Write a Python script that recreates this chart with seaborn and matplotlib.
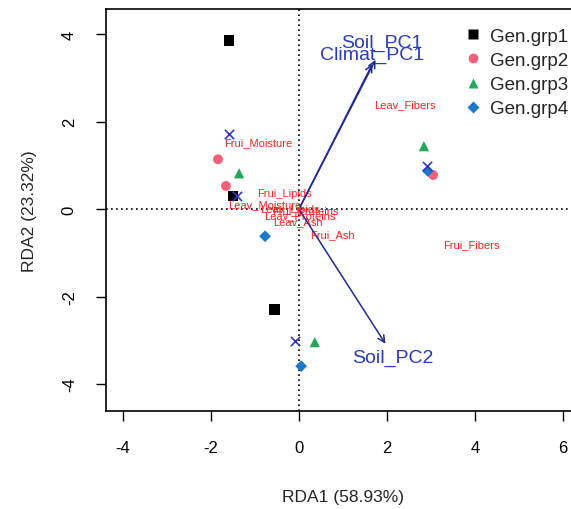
import pandas as pd
import matplotlib.pyplot as plt
import seaborn as sns

# --- dados ---
grupos = ['Gen.grp1', 'Gen.grp1', 'Gen.grp1',
          'Gen.grp2', 'Gen.grp2', 'Gen.grp2',
          'Gen.grp3', 'Gen.grp3', 'Gen.grp3',
          'Gen.grp4', 'Gen.grp4', 'Gen.grp4']
rda1 = [-1.59, -1.50, -0.55,
        -1.84, -1.66, 3.05,
        -1.36, 2.84, 0.36,
        -0.77, 2.93, 0.05]
rda2 = [3.86, 0.30, -2.29,
        1.14, 0.53, 0.78,
        0.82, 1.44, -3.04,
        -0.62, 0.87, -3.59]

# centróides (x azuis)
cent_x = [-1.59, 2.91, -0.09, -1.40]
cent_y = [1.71, 0.98, -3.02, 0.30]

# variáveis resposta (texto vermelho)
var_nomes = ['Leav_Fibers', 'Frui_Moisture', 'Frui_Fibers', 'Frui_Lipids',
             'Leav_Moisture', 'Leav_Lipids', 'Frui_Proteins', 'Leav_Proteins',
             'Leav_Ash', 'Frui_Ash']
var_x = [2.41, -0.93, 3.93, -0.32, -0.77, -0.20, 0.14, 0.02, -0.02, 0.75]
var_y = [2.40, 1.53, -0.80, 0.37, 0.11, 0.00, -0.02, -0.14, -0.27, -0.57]

# setas ambientais
seta_nomes = ['Soil_PC1', 'Climat_PC1', 'Soil_PC2']
seta_x = [1.77, 1.70, 2.00]
seta_y = [3.47, 3.38, -3.13]
rot_x = [1.89, 1.66, 2.14]
rot_y = [3.82, 3.54, -3.38]

df = pd.DataFrame({'grupo': grupos, 'RDA1': rda1, 'RDA2': rda2})

sns.set_style('white')
plt.rcParams['font.family'] = ['Liberation Sans', 'DejaVu Sans']
plt.rcParams['axes.unicode_minus'] = False

fig = plt.figure(figsize=(5.71, 5.10), dpi=100)
ax = fig.add_axes([0.1856, 0.192, 0.830, 0.788])

cores = {'Gen.grp1': '#000000', 'Gen.grp2': '#F0607A',
         'Gen.grp3': '#1FAA55', 'Gen.grp4': '#1E78C8'}
marcadores = {'Gen.grp1': 's', 'Gen.grp2': 'o', 'Gen.grp3': '^', 'Gen.grp4': 'D'}
tamanhos = {'Gen.grp1': 60, 'Gen.grp2': 50, 'Gen.grp3': 55, 'Gen.grp4': 36}

ax.axhline(0, color='black', linestyle=(0, (1, 2)), linewidth=1.2, zorder=1)
ax.axvline(0, color='black', linestyle=(0, (1, 2)), linewidth=1.2, zorder=1)

for nome, x, y in zip(var_nomes, var_x, var_y):
    ax.text(x, y, nome, color='#FF2020', fontsize=8, ha='center', va='center', zorder=2)

for nome, x, y, tx, ty in zip(seta_nomes, seta_x, seta_y, rot_x, rot_y):
    ax.annotate('', xy=(x, y), xytext=(0, 0),
                arrowprops=dict(arrowstyle='->', color='#1F2A9A', lw=1.1,
                                mutation_scale=12), zorder=3)
    ax.text(tx, ty, nome, color='#2B3BC0', fontsize=14, ha='center', va='center', zorder=3)

sns.scatterplot(data=df, x='RDA1', y='RDA2', hue='grupo', style='grupo', size='grupo',
                palette=cores, markers=marcadores, sizes=tamanhos, edgecolor='none',
                ax=ax, zorder=4)
sns.scatterplot(x=cent_x, y=cent_y, marker='x', color='#3535C8', s=45,
                linewidth=1.2, ax=ax, zorder=5, legend=False)

h, l = ax.get_legend_handles_labels()
ax.legend(h, l, frameon=False, loc='upper left', bbox_to_anchor=(0.812, 0.944),
          bbox_transform=fig.transFigure, fontsize=13.5, handlelength=1.0,
          handletextpad=0.4, labelspacing=0.38, borderpad=0, borderaxespad=0)

ax.set_xlim(-4.386, 6.386)
ax.set_ylim(-4.617, 4.571)
ax.set_xticks([-4, -2, 0, 2, 4, 6])
ax.set_yticks([-4, -2, 0, 2, 4])
ax.tick_params(axis='both', direction='out', length=7, width=1, labelsize=12,
               colors='black', pad=14, bottom=True, left=True)
for lab in ax.get_yticklabels():
    lab.set_rotation(90)
    lab.set_va('center')
ax.set_xlabel('RDA1 (58.93%)', fontsize=12.5, labelpad=24)
ax.set_ylabel('RDA2 (23.32%)', fontsize=12.5, labelpad=18)
for s in ax.spines.values():
    s.set_color('black')
    s.set_linewidth(1.2)

fig.savefig('out.png', dpi=100)
